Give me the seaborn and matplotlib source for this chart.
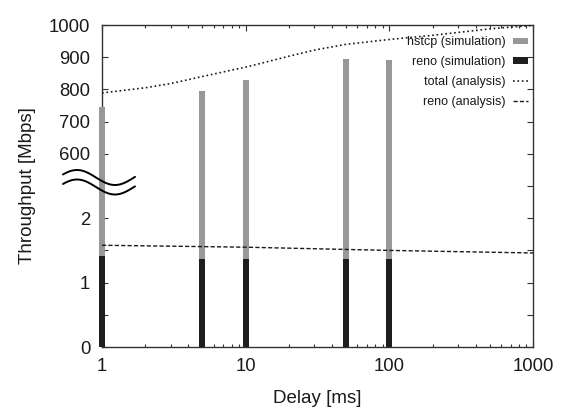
import numpy as np
import matplotlib
matplotlib.use("Agg")
import matplotlib.pyplot as plt
import seaborn as sns
from matplotlib.patches import Patch
from matplotlib.lines import Line2D

# ---- data -------------------------------------------------------------
delays = [1, 5, 10, 50, 100]                      # ms
hstcp_total = [745, 795, 828, 893, 890]           # top of stacked bar (Mbps)
reno_sim = [1.42, 1.37, 1.37, 1.37, 1.36]         # reno (simulation)

total_x = [1, 2, 3, 5, 8, 10, 20, 30, 50, 100, 200, 500, 1000]
total_y = [789, 805, 818, 840, 860, 869, 903, 922, 940, 955, 968, 988, 999]

reno_x = [1, 10, 100, 1000]
reno_y = [1.58, 1.55, 1.50, 1.46]

x_ticks = [1, 10, 100, 1000]
x_tick_labels = ["1", "10", "100", "1000"]
y_ticks = [0, 0.5, 1, 1.5, 2, 2.5, 600, 700, 800, 900, 1000]
y_tick_labels = ["0", "", "1", "", "2", "", "600", "700", "800", "900", "1000"]
legend_labels = ["hstcp (simulation)", "reno (simulation)",
                 "total (analysis)", "reno (analysis)"]

GRAY = "#98989c"
BLACK = "#1e1e1e"
INK = "#1a1a1a"
SPINE = "#333333"

# ---- broken y scale ------------------------------------------------------
EPS = 1e-6
LOW_TOP = 3.0
HIGH_BOT = 600.0
OFF = LOW_TOP + (HIGH_BOT - LOW_TOP) * EPS


def fwd(y):
    y = np.asarray(y, dtype=float)
    return np.where(y <= LOW_TOP, y,
                    np.where(y < HIGH_BOT, LOW_TOP + (y - LOW_TOP) * EPS,
                             OFF + (y - HIGH_BOT) / 200.0))


def inv(t):
    t = np.asarray(t, dtype=float)
    return np.where(t <= LOW_TOP, t,
                    np.where(t < OFF, LOW_TOP + (t - LOW_TOP) / EPS,
                             HIGH_BOT + (t - OFF) * 200.0))


sns.set_style("ticks")
plt.rcParams["font.family"] = ["Liberation Sans", "DejaVu Sans"]
plt.rcParams["text.color"] = INK
plt.rcParams["axes.labelcolor"] = INK

W, H = 565, 417
fig = plt.figure(figsize=(W / 100, H / 100), dpi=100)
L, R, T, B = 102, 533, 25, 347
ax = fig.add_axes([L / W, 1 - B / H, (R - L) / W, (B - T) / H])

sns.barplot(x=delays, y=hstcp_total, native_scale=True, log_scale=(True, False),
            orient="x", color=GRAY, saturation=1, width=0.14, errorbar=None,
            linewidth=0, ax=ax, zorder=3, clip_on=False)
sns.barplot(x=delays, y=reno_sim, native_scale=True, log_scale=(True, False),
            orient="x", color=BLACK, saturation=1, width=0.14, errorbar=None,
            linewidth=0, ax=ax, zorder=3.1, clip_on=False)

sns.lineplot(x=total_x, y=total_y, ax=ax, color=INK, linestyle=":",
             linewidth=1.2, zorder=4)
sns.lineplot(x=reno_x, y=reno_y, ax=ax, color=INK, linewidth=1.0,
             dashes=False, zorder=4)
ax.lines[-1].set_dashes((3, 1.6))

ax.set_yscale("function", functions=(fwd, inv))
ax.set_xlim(1, 1000)
ax.set_ylim(0, 1000)

ax.set_xticks(x_ticks, labels=x_tick_labels)
ax.set_yticks(y_ticks, labels=y_tick_labels)
ax.yaxis.set_minor_locator(matplotlib.ticker.NullLocator())

for s in ax.spines.values():
    s.set_color(SPINE)
    s.set_linewidth(1.0)

ax.tick_params(which="both", direction="in", top=True, right=True,
               color=SPINE, width=0.8, labelcolor=INK, labelsize=13.3)
ax.tick_params(axis="x", which="major", length=4.3, pad=8)
ax.tick_params(axis="x", which="minor", length=2.3)
ax.tick_params(axis="y", which="major", length=4.0, pad=8.5)

ax.set_xlabel("Delay [ms]", fontsize=13.5, labelpad=11)
ax.set_ylabel("Throughput [Mbps]", fontsize=13.5, labelpad=9)

# ---- legend (gnuplot style: text right-aligned, sample on the right) -------
handles = [Patch(facecolor=GRAY, edgecolor="none"),
           Patch(facecolor=BLACK, edgecolor="none"),
           Line2D([], [], color=INK, linestyle=":", linewidth=1.2),
           Line2D([], [], color=INK, linewidth=1.0, dashes=(3, 1.6))]
leg = ax.legend(handles, legend_labels, loc="upper right", markerfirst=False,
                frameon=False, fontsize=9, handlelength=1.2, handleheight=0.45,
                handletextpad=0.6, labelspacing=0.62, borderaxespad=0.2,
                borderpad=0.2, bbox_to_anchor=(1.0, 0.98))
leg.set_zorder(6)

# ---- axis-break symbol ---------------------------------------------------
px = np.linspace(63, 135, 120)
top_py = 177.5 - 7.5 * np.cos(2 * np.pi * (px - 77) / 76)
bot_py = top_py + 9.5
xf = (px - L) / (R - L)
yf_top = (B - top_py) / (B - T)
yf_bot = (B - bot_py) / (B - T)
ax.fill_between(xf, yf_bot, yf_top, transform=ax.transAxes, color="white",
                zorder=2.6, clip_on=False, linewidth=0)
ax.plot(xf, yf_top, transform=ax.transAxes, color="black", lw=1.4,
        zorder=5, clip_on=False)
ax.plot(xf, yf_bot, transform=ax.transAxes, color="black", lw=1.4,
        zorder=5, clip_on=False)

fig.savefig("out.png", dpi=100)
